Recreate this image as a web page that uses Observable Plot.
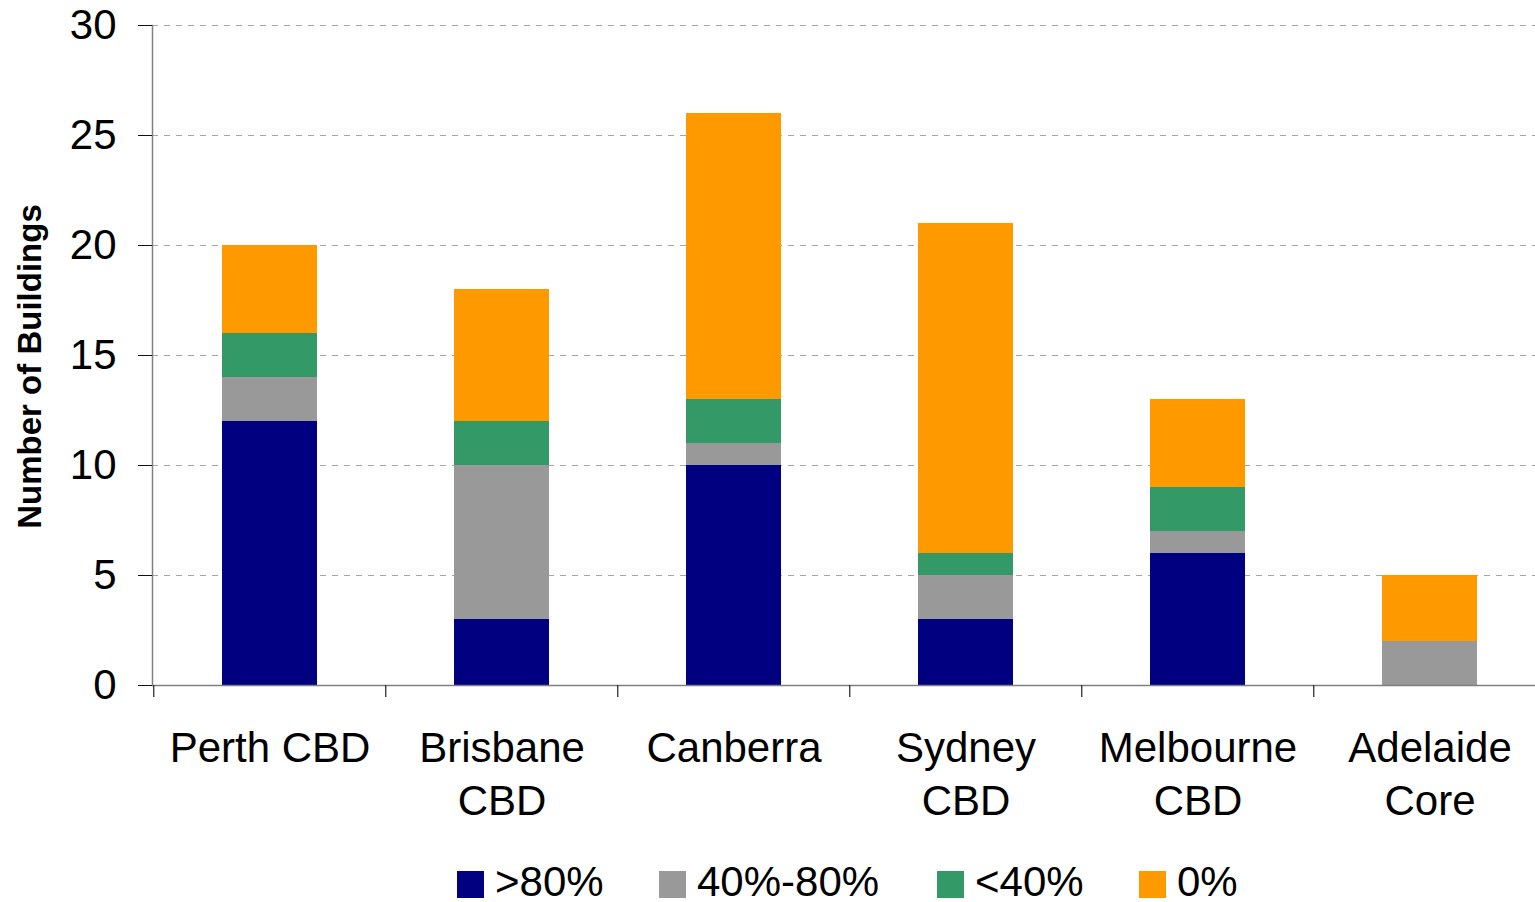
<!DOCTYPE html>
<html>
<head>
<meta charset="utf-8">
<script src="https://cdn.jsdelivr.net/npm/d3@7"></script>
<script src="https://cdn.jsdelivr.net/npm/@observablehq/plot@0.6"></script>
<style>
  html, body { margin: 0; padding: 0; background: #fff; }
  #wrap { position: relative; width: 1535px; height: 902px; font-family: "Liberation Sans", Arial, sans-serif; }
  #legend { position: relative; width: 1535px; height: 57px; }
  .sw { position: absolute; top: 26px; width: 27px; height: 27px; }
  .lt { position: absolute; top: 19px; font-size: 42px; line-height: 36px; color: #000; white-space: nowrap; }
</style>
</head>
<body>
<div id="wrap"><div id="chart"></div><div id="legend"></div></div>
<script>
const categories = ["Perth CBD", "Brisbane CBD", "Canberra", "Sydney CBD", "Melbourne CBD", "Adelaide Core"];
const tickLabels = ["Perth CBD", "Brisbane\nCBD", "Canberra", "Sydney\nCBD", "Melbourne\nCBD", "Adelaide\nCore"];
const series = [">80%", "40%-80%", "<40%", "0%"];
const colors = ["#000080", "#999999", "#339966", "#FF9900"];
const over80 = [12, 3, 10, 3, 6, 0];
const from40to80 = [2, 7, 1, 2, 1, 2];
const under40 = [2, 2, 2, 1, 2, 0];
const zeroPct = [4, 6, 13, 15, 4, 3];
const yTicks = [0, 5, 10, 15, 20, 25, 30];
const yLabel = "Number of Buildings";

const seriesValues = [over80, from40to80, under40, zeroPct];
const data = [];
categories.forEach((c, i) => {
  series.forEach((s, j) => data.push({city: c, series: s, value: seriesValues[j][i]}));
});

const xRange = [152, 1547];
const step = (xRange[1] - xRange[0]) / categories.length;

const chart = Plot.plot({
  width: 1535,
  height: 845,
  marginTop: 25,
  marginBottom: 160,
  marginLeft: 152,
  marginRight: 0,
  style: {fontFamily: "'Liberation Sans', Arial, sans-serif", background: "white", color: "#000", overflow: "visible"},
  x: {domain: categories, range: xRange, paddingInner: 0.59, paddingOuter: 0.295},
  y: {domain: [0, 30]},
  color: {domain: series, range: colors},
  marks: [
    Plot.ruleY(yTicks.filter(d => d > 0), {stroke: "#a6a6a6", strokeDasharray: "6,6", strokeWidth: 1}),
    Plot.barY(data, {x: "city", y: "value", fill: "series"}),
    Plot.frame({anchor: "left", stroke: "#808080", strokeWidth: 1.5}),
    Plot.ruleY([0], {stroke: "#808080", strokeWidth: 1.5}),
    Plot.ruleX(categories, {x: d => d, dx: -step / 2, insetTop: 660, insetBottom: -12, stroke: "#222", strokeWidth: 1.2}),
    Plot.axisY({ticks: yTicks, tickSize: 14, tickPadding: 22, fontSize: 42, label: null, stroke: "#111"}),
    Plot.axisX({tickSize: 0, tickPadding: 40, fontSize: 42, label: null, lineHeight: 1.24,
      tickFormat: d => tickLabels[categories.indexOf(d)]}),
    Plot.text([yLabel], {frameAnchor: "left", text: d => d, dx: -122, dy: 11, rotate: -90,
      textAnchor: "middle", fontWeight: "bold", fontSize: 33})
  ]
});
document.getElementById("chart").appendChild(chart);

const legendX = [457, 659, 937, 1139];
const legend = document.getElementById("legend");
series.forEach((s, i) => {
  const sw = document.createElement("div");
  sw.className = "sw";
  sw.style.left = legendX[i] + "px";
  sw.style.background = colors[i];
  legend.appendChild(sw);
  const t = document.createElement("div");
  t.className = "lt";
  t.style.left = (legendX[i] + 38) + "px";
  t.textContent = s;
  legend.appendChild(t);
});
</script>
</body>
</html>
